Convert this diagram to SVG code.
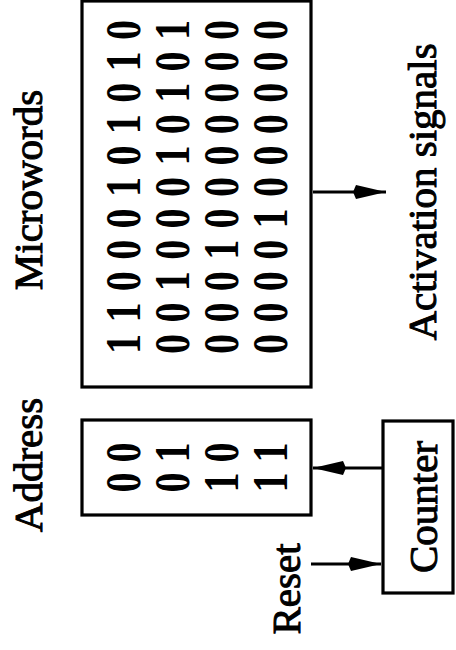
<svg xmlns="http://www.w3.org/2000/svg" width="456" height="650" viewBox="0 0 456 650">
<style>
.box{fill:none;stroke:#000;stroke-width:3.2}
.lbl{font-family:"Liberation Serif","Times New Roman",serif;font-size:41px;fill:#000;text-anchor:middle;stroke:#000;stroke-width:1}
.bits{font-family:"Liberation Serif","Times New Roman",serif;font-size:40px;font-weight:bold;fill:#000;text-anchor:middle}
.wire{stroke:#000;stroke-width:2.8;fill:none}
</style>
<defs>
<marker id="ah" markerUnits="userSpaceOnUse" markerWidth="36" markerHeight="18" refX="33" refY="9" orient="auto">
<path d="M0,9 L3,2 L33,9 L3,16 Z" fill="#000"/>
</marker>
</defs>
<rect width="456" height="650" fill="#fff"/>
<g transform="translate(0,650) rotate(-90)">
<g id="microwords">
<rect class="box" x="263" y="82" width="386" height="229"/>
<text class="lbl" x="460" y="42">Microwords</text>
<text class="bits" transform="matrix(1,0,0,1.25,0,-35)" x="306 337.4 368.8 400.2 431.6 463 494.4 525.8 557.2 588.6 620" y="140">11000101010</text>
<text class="bits" transform="matrix(1,0,0,1.25,0,-47.25)" x="306 337.4 368.8 400.2 431.6 463 494.4 525.8 557.2 588.6 620" y="189">00100010101</text>
<text class="bits" transform="matrix(1,0,0,1.25,0,-59.5)" x="306 337.4 368.8 400.2 431.6 463 494.4 525.8 557.2 588.6 620" y="238">00010000000</text>
<text class="bits" transform="matrix(1,0,0,1.25,0,-71.75)" x="306 337.4 368.8 400.2 431.6 463 494.4 525.8 557.2 588.6 620" y="287">00001000000</text>
</g>
<g id="address">
<rect class="box" x="135" y="82" width="95" height="229"/>
<text class="lbl" x="185" y="42">Address</text>
<text class="bits" transform="matrix(1,0,0,1.25,0,-35)" x="167.5 197.5" y="140">00</text>
<text class="bits" transform="matrix(1,0,0,1.25,0,-47.25)" x="167.5 197.5" y="189">01</text>
<text class="bits" transform="matrix(1,0,0,1.25,0,-59.5)" x="167.5 197.5" y="238">10</text>
<text class="bits" transform="matrix(1,0,0,1.25,0,-71.75)" x="167.5 197.5" y="287">11</text>
</g>
<g id="counter">
<rect class="box" x="57" y="383" width="172" height="70"/>
<text class="lbl" x="143" y="437">Counter</text>
</g>
<g id="reset">
<text class="lbl" x="61" y="300">Reset</text>
</g>
<g id="activation">
<text class="lbl" x="458" y="436">Activation signals</text>
</g>
<g id="connectors">
<line class="wire" x1="182" y1="383" x2="182" y2="313" marker-end="url(#ah)"/>
<line class="wire" x1="86" y1="311" x2="86" y2="381" marker-end="url(#ah)"/>
<line class="wire" x1="458" y1="313" x2="458" y2="386" marker-end="url(#ah)"/>
</g>
</g>
</svg>
